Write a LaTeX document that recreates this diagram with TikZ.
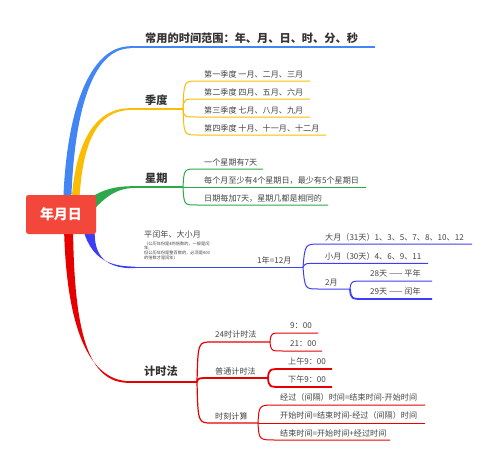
\documentclass[tikz,border=0pt]{standalone}
\usepackage{fontspec}
\setmainfont{Noto Sans CJK SC}
\definecolor{cB}{HTML}{4285F4}
\definecolor{cY}{HTML}{FBBC04}
\definecolor{cG}{HTML}{2EA84A}
\definecolor{cI}{HTML}{3D3DF5}
\definecolor{cR}{HTML}{E60000}
\definecolor{cN}{HTML}{F4473B}
\definecolor{tx}{HTML}{333333}
\definecolor{ts}{HTML}{444444}
\tikzset{
 mainlbl/.style={anchor=base west, inner sep=0, font=\bfseries\fontsize{11.2}{12}\selectfont, text=tx},
 sublbl/.style={anchor=base west, inner sep=0, font=\fontsize{8.1}{9}\selectfont, text=ts},
 tinylbl/.style={anchor=north west, inner sep=0, font=\fontsize{4.2}{4.9}\selectfont, text=ts, align=left},
 thinln/.style={line width=1pt},
 boldln/.style={line width=1.8pt},
}
\begin{document}
\begin{tikzpicture}[x=1pt,y=-1pt]
\useasboundingbox (0,0) rectangle (499,466);
% ---- main tapered branches
\fill[cB] (63,210) .. controls (65,110) and (90,46.3) .. (130,46.3) -- (130,48.3) .. controls (93,49) and (73,110) .. (71,210) -- cycle;
\fill[cY] (71,210) .. controls (74,140) and (96,108.2) .. (130,108.2) -- (130,109.9) .. controls (98,111) and (81,140) .. (79,210) -- cycle;
\fill[cG] (88,199) .. controls (104,189) and (115,186.2) .. (133,186.2) -- (133,188) .. controls (118,188.5) and (106,195) .. (90,214) -- cycle;
\fill[cI] (82,226) .. controls (90,256) and (105,266.6) .. (135,266.6) -- (135,268.2) .. controls (100,269) and (93,250) .. (95,226) -- cycle;
\fill[cR] (64,226) .. controls (66,330) and (90,381.2) .. (130,381.2) -- (130,382.8) .. controls (87,384) and (74,330) .. (73,226) -- cycle;
% ---- horizontal trunks
\coordinate (bB) at (129,47.3);
\coordinate (eB) at (375,47.3);
\draw[cB, line width=1.8pt] (bB) -- (eB);
\coordinate (bY) at (129,109);
\coordinate (fY) at (183,109);
\draw[cY, line width=1.4pt] (bY) -- (fY);
\coordinate (bG) at (131,187.1);
\coordinate (fG) at (183,187.1);
\draw[cG, line width=1.4pt] (bG) -- (fG);
\coordinate (bI) at (133,267.4);
\coordinate (fI) at (303,267.4);
\draw[cI, line width=1.3pt] (bI) -- (fI);
\coordinate (bR) at (129,382);
\coordinate (fR) at (197,382);
\draw[cR, line width=1.4pt] (bR) -- (fR);
% ---- yellow children
\foreach \yy/\xe in {81/310, 99/310, 117/310, 135/326}
  \draw[cY,thinln] (fY) .. controls (184,\yy) .. (197,\yy) -- (\xe,\yy);
% ---- green children
\foreach \yy/\xe in {169/263, 187.1/366, 205/328}
  \draw[cG,thinln] (fG) .. controls (184,\yy) .. (197,\yy) -- (\xe,\yy);
% ---- indigo children
\coordinate (fI2) at (350,289);
\draw[cI,thinln] (fI) .. controls (305,244) .. (320,244) -- (472,244);
\draw[cI,thinln] (fI) .. controls (305,263.3) .. (318,263.3) -- (428,263.3);
\draw[cI,thinln] (fI) .. controls (305,289) .. (318,289) -- (fI2);
\draw[cI,thinln] (fI2) .. controls (351,281) .. (365,281) -- (432,281);
\draw[cI,boldln] (fI2) .. controls (351,299) .. (365,299) -- (432,299);
% ---- red children
\coordinate (r1) at (270,342);
\coordinate (r2) at (268,378);
\coordinate (r3) at (258,423);
\draw[cR,line width=1.2pt] (fR) .. controls (198,342) .. (212,342) -- (r1);
\draw[cR,boldln] (fR) .. controls (198,378) .. (212,378) -- (r2);
\draw[cR,line width=1.2pt] (fR) .. controls (198,423) .. (212,423) -- (r3);
\draw[cR,thinln] (r1) .. controls (271,333) .. (283,333) -- (318,333);
\draw[cR,thinln] (r1) .. controls (271,351) .. (283,351) -- (322,351);
\draw[cR,boldln] (r2) .. controls (269,369) .. (283,369) -- (332,369);
\draw[cR,boldln] (r2) .. controls (269,387) .. (283,387) -- (332,387);
\draw[cR,thinln] (r3) .. controls (259,405) .. (276,405) -- (425,405);
\draw[cR,thinln] (r3) -- (425,423);
\draw[cR,thinln] (r3) .. controls (259,440) .. (276,440) -- (390,440);
% ---- center node
\node[fill=cN, rounded corners=2.5pt, minimum width=70pt, minimum height=39pt, inner sep=0, text=white, font=\bfseries\fontsize{14}{14}\selectfont] (c) at (61,214.5) {年月日};
% ---- labels
\node[mainlbl] (t1) at (145,42) {常用的时间范围：年、月、日、时、分、秒};
\node[mainlbl] (t2) at (145,104) {季度};
\node[sublbl] (q1) at (204,77) {第一季度 一月、二月、三月};
\node[sublbl] (q2) at (204,95) {第二季度 四月、五月、六月};
\node[sublbl] (q3) at (204,113) {第三季度 七月、八月、九月};
\node[sublbl] (q4) at (204,131) {第四季度 十月、十一月、十二月};
\node[mainlbl] (t3) at (145,182) {星期};
\node[sublbl] (w1) at (204,165.5) {一个星期有7天};
\node[sublbl] (w2) at (204,183.5) {每个月至少有4个星期日，最少有5个星期日};
\node[sublbl] (w3) at (204,201.5) {日期每加7天，星期几都是相同的};
\node[sublbl] (t4) at (144,237.5) {平闰年、大小月};
\node[tinylbl] (t4n) at (144,241.3) {（公历年份是4的倍数的，一般是闰\\年;\\但公历年份是整百数的，必须是400\\的倍数才是闰年）};
\node[sublbl] (y1) at (257,263.5) {1年=12月};
\node[sublbl] (m1) at (325,240.5) {大月（31天）1、3、5、7、8、10、12};
\node[sublbl] (m2) at (325,259.5) {小月（30天）4、6、9、11};
\node[sublbl] (m3) at (325,285.5) {2月};
\node[sublbl] (d1) at (370,276.5) {28天 —— 平年};
\node[sublbl] (d2) at (370,294.5) {29天 —— 闰年};
\node[mainlbl] (t5) at (144,375) {计时法};
\node[sublbl] (h1) at (215,337.5) {24时计时法};
\node[sublbl] (h2) at (215,374) {普通计时法};
\node[sublbl] (h3) at (215,419) {时刻计算};
\node[sublbl] (h11) at (290,328.5) {9：00};
\node[sublbl] (h12) at (290,346.5) {21：00};
\node[sublbl] (h21) at (288,364.5) {上午9：00};
\node[sublbl] (h22) at (288,382.5) {下午9：00};
\node[sublbl] (h31) at (280,400.5) {经过（间隔）时间=结束时间-开始时间};
\node[sublbl] (h32) at (280,418.5) {开始时间=结束时间-经过（间隔）时间};
\node[sublbl] (h33) at (280,436) {结束时间=开始时间+经过时间};
\end{tikzpicture}
\end{document}
